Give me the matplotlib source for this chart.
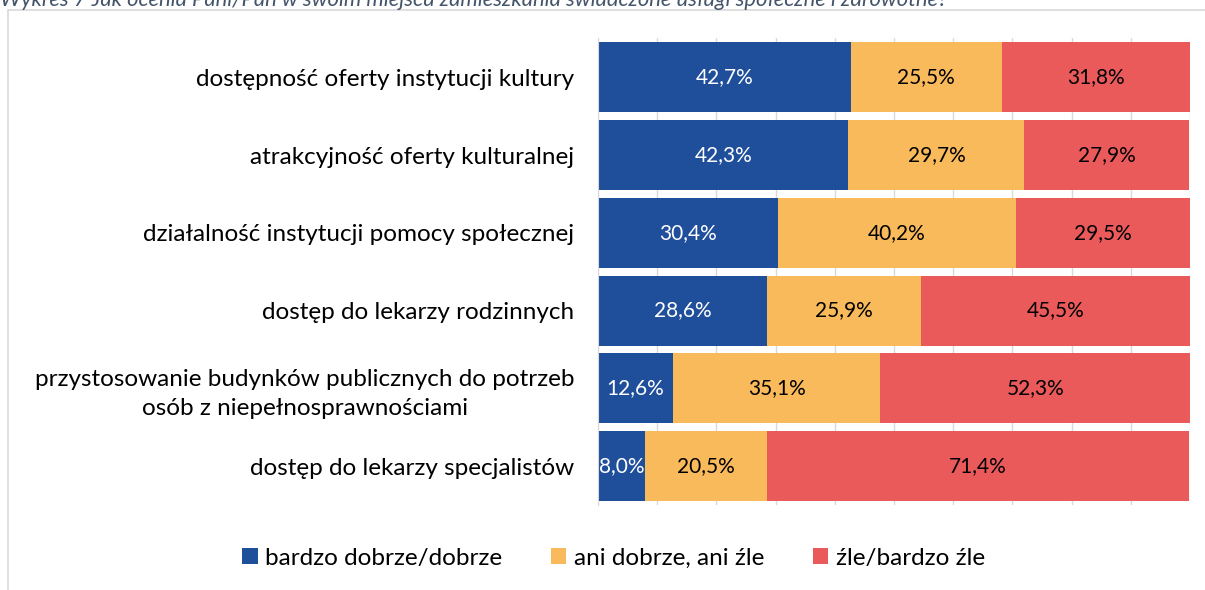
import matplotlib.pyplot as plt
from matplotlib.patches import Rectangle
import numpy as np

plt.rcParams['font.family'] = ['Lato', 'DejaVu Sans']

# Survey answers, % of respondents
categories = [
    'dostępność oferty instytucji kultury',
    'atrakcyjność oferty kulturalnej',
    'działalność instytucji pomocy społecznej',
    'dostęp do lekarzy rodzinnych',
    'przystosowanie budynków publicznych do potrzeb\nosób z niepełnosprawnościami',
    'dostęp do lekarzy specjalistów',
]
good = [42.7, 42.3, 30.4, 28.6, 12.6, 8.0]
neutral = [25.5, 29.7, 40.2, 25.9, 35.1, 20.5]
bad = [31.8, 27.9, 29.5, 45.5, 52.3, 71.4]

series_names = ['bardzo dobrze/dobrze', 'ani dobrze, ani źle', 'źle/bardzo źle']
colors = ['#1F4E9B', '#F9BA5B', '#EB5A5B']
label_colors = ['white', 'black', 'black']

title = ('Wykres 7 Jak ocenia Pani/Pan w swoim miejscu zamieszkania '
         'świadczone usługi społeczne i zdrowotne?')

fig = plt.figure(figsize=(12.05, 5.9), dpi=100)
ax = fig.add_axes([0.4963, 0.144, 0.4913, 0.791])

# chart area frame
fig.patches.append(Rectangle((8 / 1205, -0.05), 1.05, 1 - 10 / 590 + 0.05,
                             transform=fig.transFigure, fill=False,
                             edgecolor='#D9D9D9', linewidth=1.2))

fig.text(0.0, 1.0, title, ha='left', va='center', style='italic',
         fontsize=15.8, color='#44546A')

y = np.arange(len(categories))
left = np.zeros(len(categories))
for vals, name, col, lc in zip([good, neutral, bad], series_names, colors, label_colors):
    vals = np.array(vals)
    bars = ax.barh(y, vals, left=left, height=0.9, color=col, label=name, zorder=2)
    for b, v in zip(bars, vals):
        ax.text(b.get_x() + b.get_width() / 2, b.get_y() + b.get_height() / 2,
                f'{v:.1f}%'.replace('.', ','), ha='center', va='center',
                color=lc, fontsize=15)
    left += vals

ax.set_xlim(0, 100)
ax.set_ylim(len(categories) - 0.5, -0.5)
ax.set_xticks(np.arange(0, 101, 10))
ax.set_xticklabels([])
ax.tick_params(axis='x', length=0)
ax.tick_params(axis='y', length=0, pad=17, labelsize=17.5)
ax.set_yticks(y)
ax.set_yticklabels(categories, ha='right', multialignment='center', linespacing=1.45)
ax.grid(axis='x', color='#D9D9D9', linewidth=1, zorder=0)
for s in ['top', 'right', 'bottom']:
    ax.spines[s].set_visible(False)
ax.spines['left'].set_color('#D9D9D9')

fig.legend(loc='center', bbox_to_anchor=(0.509, 1 - 558 / 590), ncol=3,
           frameon=False, fontsize=17.5, handlelength=0.65, handleheight=0.65,
           handletextpad=0.3, columnspacing=2.0)

fig.savefig('out.png', dpi=100)
